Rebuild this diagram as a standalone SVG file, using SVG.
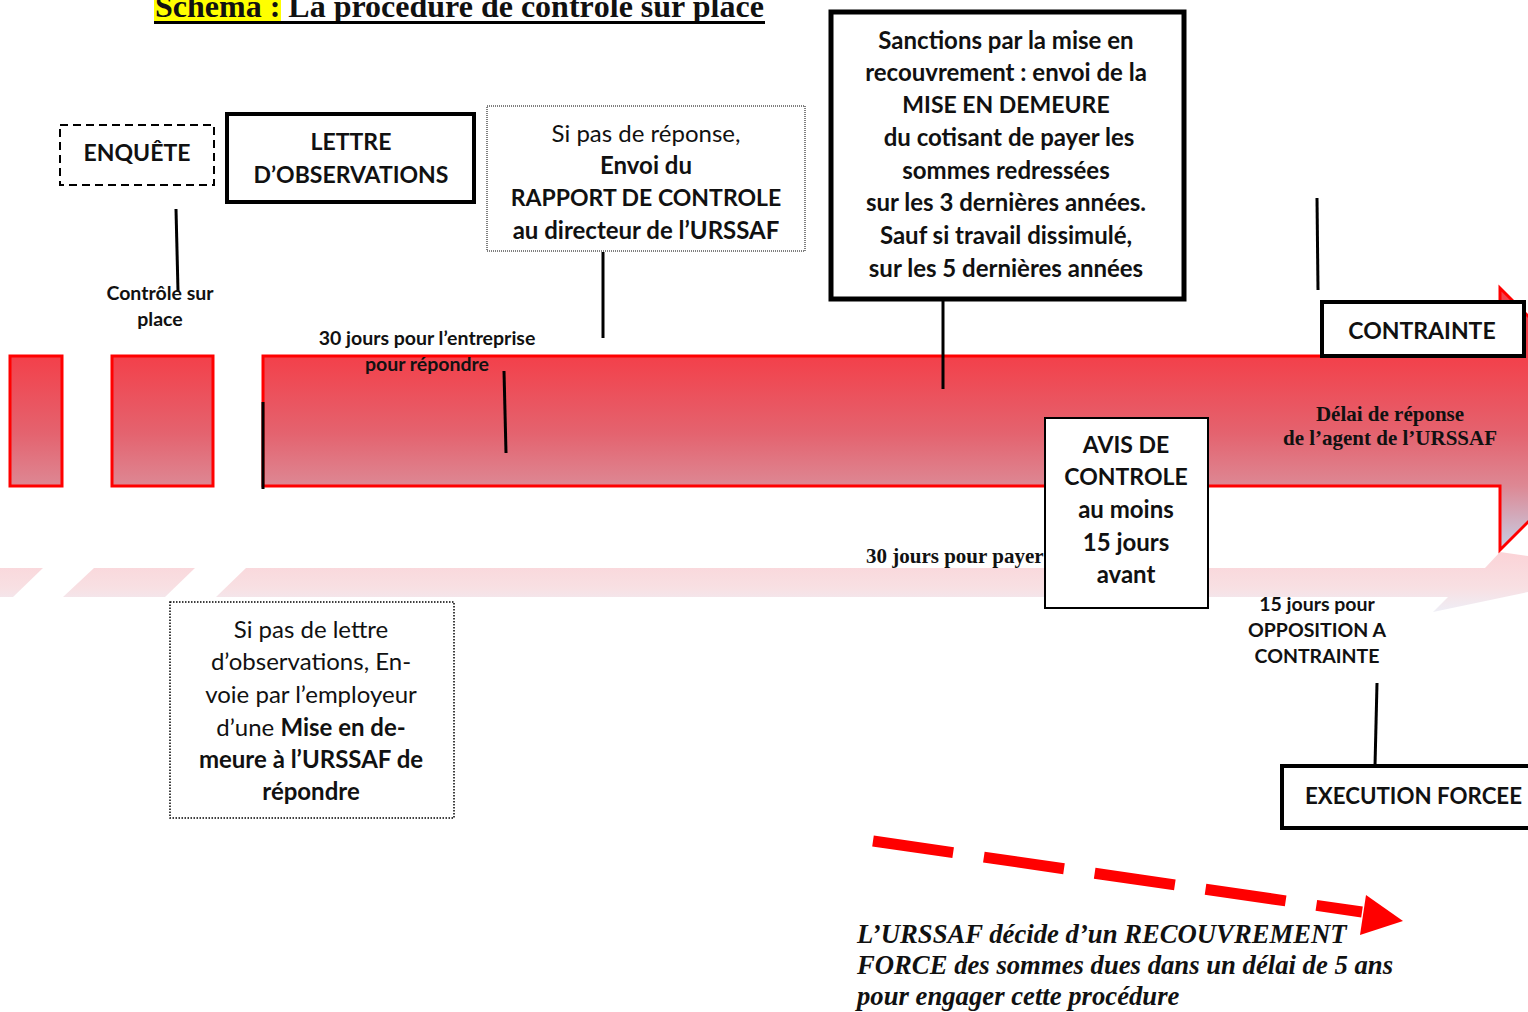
<svg xmlns="http://www.w3.org/2000/svg" width="1528" height="1012" viewBox="0 0 1528 1012">
  <defs>
    <linearGradient id="redFill" gradientUnits="userSpaceOnUse" x1="0" y1="356" x2="0" y2="550">
      <stop offset="0" stop-color="#f3404a"/>
      <stop offset="0.4" stop-color="#e4636f"/>
      <stop offset="0.67" stop-color="#dd8894"/>
      <stop offset="1" stop-color="#c6d0e6"/>
    </linearGradient>
    <linearGradient id="mirrorFill" gradientUnits="userSpaceOnUse" x1="0" y1="552" x2="0" y2="612">
      <stop offset="0" stop-color="#fbd3d7"/>
      <stop offset="0.6" stop-color="#f8e0e3"/>
      <stop offset="1" stop-color="#eeeef6"/>
    </linearGradient>
    <style>
      .box { fill: #ffffff; stroke: #000000; }
      .lbl { font-family: Lato, "Liberation Sans", sans-serif; font-weight: bold; fill: #111111; text-anchor: middle; }
      .big { font-size: 24px; }
      .caps { font-size: 23px; }
      .small { font-size: 19.5px; }
      .reg { font-weight: normal; }
      .start { text-anchor: start; }
      .serif { font-family: "Liberation Serif", serif; font-weight: bold; fill: #111111; }
      .conn { stroke: #000000; stroke-width: 3; fill: none; }
      .bar { fill: url(#redFill); stroke: #ff0000; stroke-width: 3; }
    </style>
  </defs>

  <rect width="1528" height="1012" fill="#ffffff"/>

  <!-- heading -->
  <g id="title">
    <rect x="154" y="0" width="127" height="21" fill="#ffff00"/>
    <text x="155" y="17" class="serif" font-size="32">Schéma : La procédure de contrôle sur place</text>
    <rect x="154" y="21" width="611" height="3" fill="#000000"/>
  </g>

  <!-- faded mirror band under the timeline -->
  <g id="mirror" fill="url(#mirrorFill)">
    <polygon points="0,568 43,568 13,597 0,597"/>
    <polygon points="94,568 195,568 165,597 63,597"/>
    <polygon points="246,568 1485,568 1500,552 1528,556 1528,592 1433,612 1448,597 216,597"/>
  </g>

  <!-- timeline: two blocks and the block arrow -->
  <g id="timeline">
    <rect class="bar" x="10" y="356" width="52" height="130"/>
    <rect class="bar" x="112" y="356" width="101" height="130"/>
    <polygon class="bar" points="263,356 1500,356 1500,288 1631,419 1500,550 1500,486 263,486"/>
  </g>

  <!-- connectors -->
  <g id="connectors">
    <line class="conn" x1="176" y1="209" x2="178" y2="291"/>
    <line class="conn" x1="263" y1="402" x2="263" y2="489"/>
    <line class="conn" x1="603" y1="252" x2="603" y2="338"/>
    <line class="conn" x1="504" y1="371" x2="506" y2="453"/>
    <line class="conn" x1="943" y1="300" x2="943" y2="389"/>
    <line class="conn" x1="1317" y1="198" x2="1318" y2="290"/>
    <line class="conn" x1="1377" y1="683" x2="1375" y2="766"/>
    <g id="recouvrement-arrow">
      <line x1="873" y1="841" x2="1362" y2="912" stroke="#ff0000" stroke-width="11" stroke-dasharray="81 31"/>
      <polygon points="1403,921 1366,895 1360,935" fill="#ff0000"/>
    </g>
  </g>

  <!-- free labels -->
  <g id="label-controle">
    <text class="lbl small" x="160" y="300">Contrôle sur</text>
    <text class="lbl small" x="160" y="326">place</text>
  </g>
  <g id="label-30-jours-repondre">
    <text class="lbl small" x="427" y="345">30 jours pour l’entreprise</text>
    <text class="lbl small" x="427" y="371">pour répondre</text>
  </g>
  <g id="label-delai">
    <text class="serif" font-size="21" text-anchor="middle" x="1390" y="421">Délai de réponse</text>
    <text class="serif" font-size="21" text-anchor="middle" x="1390" y="445">de l’agent de l’URSSAF</text>
  </g>
  <g id="label-30-jours-payer">
    <text class="serif" font-size="21" x="866" y="563">30 jours pour payer</text>
  </g>
  <g id="label-opposition">
    <text class="lbl small" x="1317" y="611">15 jours pour</text>
    <text class="lbl small" x="1317" y="637">OPPOSITION A</text>
    <text class="lbl small" x="1317" y="663">CONTRAINTE</text>
  </g>
  <g id="label-recouvrement" class="serif" font-size="26.7" font-style="italic">
    <text x="857" y="943">L’URSSAF décide d’un RECOUVREMENT</text>
    <text x="857" y="974">FORCE des sommes dues dans un délai de 5 ans</text>
    <text x="857" y="1005">pour engager cette procédure</text>
  </g>

  <!-- nodes -->
  <g id="enquete">
    <rect class="box" x="60" y="125" width="154" height="60" stroke-width="2" stroke-dasharray="8 5"/>
    <text class="lbl caps" x="137" y="161">ENQUÊTE</text>
  </g>
  <g id="lettre-observations">
    <rect class="box" x="227" y="114" width="247" height="88" stroke-width="4"/>
    <text class="lbl caps" x="351" y="150">LETTRE</text>
    <text class="lbl caps" x="351" y="183">D’OBSERVATIONS</text>
  </g>
  <g id="rapport-controle">
    <rect class="box" x="487" y="106" width="318" height="145" stroke-width="1" stroke="#555555" stroke-dasharray="1 1"/>
    <text class="lbl big reg" x="646" y="142">Si pas de réponse,</text>
    <text class="lbl big" x="646" y="174">Envoi du</text>
    <text class="lbl caps" x="646" y="206">RAPPORT DE CONTROLE</text>
    <text class="lbl big" x="646" y="239">au directeur de l’URSSAF</text>
  </g>
  <g id="sanctions">
    <rect class="box" x="831" y="12" width="353" height="287" stroke-width="5"/>
    <text class="lbl big" x="1006" y="49">Sanctions par la mise en</text>
    <text class="lbl big" x="1006" y="81">recouvrement : envoi de la</text>
    <text class="lbl caps" x="1006" y="113">MISE EN DEMEURE</text>
    <text class="lbl big" x="1009" y="146">du cotisant de payer les</text>
    <text class="lbl big" x="1006" y="179">sommes redressées</text>
    <text class="lbl big" x="1006" y="211">sur les 3 dernières années.</text>
    <text class="lbl big" x="1006" y="244">Sauf si travail dissimulé,</text>
    <text class="lbl big" x="1006" y="277">sur les 5 dernières années</text>
  </g>
  <g id="contrainte">
    <rect class="box" x="1322" y="302" width="202" height="54" stroke-width="4"/>
    <text class="lbl caps" x="1422" y="339">CONTRAINTE</text>
  </g>
  <g id="avis-controle">
    <rect class="box" x="1045" y="418" width="163" height="190" stroke-width="2"/>
    <text class="lbl caps" x="1126" y="453">AVIS DE</text>
    <text class="lbl caps" x="1126" y="485">CONTROLE</text>
    <text class="lbl big" x="1126" y="518">au moins</text>
    <text class="lbl big" x="1126" y="551">15 jours</text>
    <text class="lbl big" x="1126" y="583">avant</text>
  </g>
  <g id="execution-forcee">
    <rect class="box" x="1282" y="766" width="250" height="62" stroke-width="4"/>
    <text class="lbl caps start" x="1305" y="804" textLength="217" lengthAdjust="spacingAndGlyphs">EXECUTION FORCEE</text>
  </g>
  <g id="mise-en-demeure-employeur">
    <rect class="box" x="170" y="602" width="284" height="216" stroke-width="1.5" stroke="#222222" stroke-dasharray="1.5 1.5"/>
    <text class="lbl big reg" x="311" y="638">Si pas de lettre</text>
    <text class="lbl big reg" x="311" y="670">d’observations, En-</text>
    <text class="lbl big reg" x="311" y="703">voie par l’employeur</text>
    <text class="lbl big" x="311" y="736"><tspan font-weight="normal">d’une </tspan>Mise en de-</text>
    <text class="lbl big" x="311" y="768">meure à l’URSSAF de</text>
    <text class="lbl big" x="311" y="800">répondre</text>
  </g>
</svg>
